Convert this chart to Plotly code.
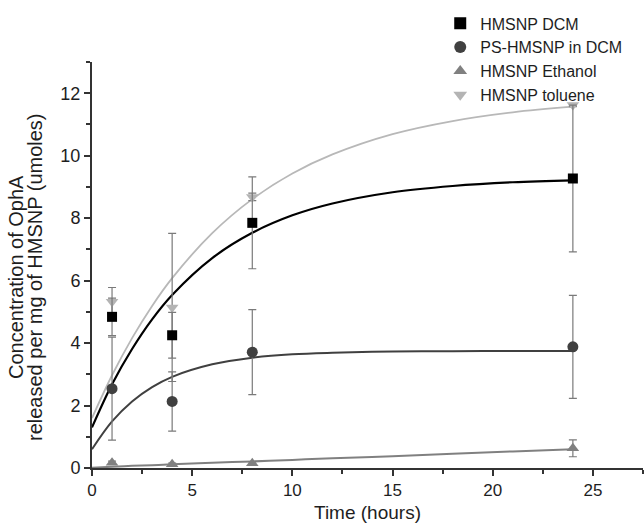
import plotly.graph_objects as go

# Measured points (time in hours)
times = [1, 4, 8, 24]
dcm_vals = [4.84, 4.25, 7.85, 9.27]
dcm_err = [0.60, 0.73, 1.47, 2.35]
ps_vals = [2.54, 2.13, 3.71, 3.88]
ps_err = [1.65, 0.95, 1.36, 1.65]
eth_vals = [0.17, 0.12, 0.15, 0.63]
eth_err = [0.05, 0.04, 0.05, 0.27]
tol_vals = [5.32, 5.14, 8.68, 11.62]
tol_err = [0.46, 2.37, 0.12, 0.05]

# Fitted curves
fit_t = [0, 1, 2, 3, 4, 6, 8, 10, 12, 15, 18, 21, 24]
dcm_fit = [1.30, 2.68, 3.81, 4.76, 5.54, 6.72, 7.53, 8.09, 8.47, 8.83, 9.03, 9.15, 9.21]
ps_fit = [0.60, 1.49, 2.13, 2.59, 2.92, 3.32, 3.53, 3.64, 3.69, 3.73, 3.74, 3.75, 3.75]
eth_fit = [0.01, 0.04, 0.07, 0.09, 0.12, 0.17, 0.21, 0.26, 0.31, 0.38, 0.46, 0.53, 0.60]
tol_fit = [1.60, 2.97, 4.16, 5.19, 6.08, 7.52, 8.61, 9.43, 10.04, 10.69, 11.11, 11.39, 11.57]

names = ["HMSNP DCM", "PS-HMSNP in DCM", "HMSNP Ethanol", "HMSNP toluene"]
x_ticks = [0, 5, 10, 15, 20, 25]
y_ticks = [0, 2, 4, 6, 8, 10, 12]
y_title_lines = ["Concentration of OphA", "released per mg of HMSNP (umoles)"]
x_title = "Time (hours)"

FONT = "Liberation Sans, Arial, sans-serif"
ERRC = "#7a7a7a"
TXT = "#1e1e1e"

fig = go.Figure()

curves = [
    (dcm_fit, "#000000", 2.2),
    (ps_fit, "#404040", 2.0),
    (eth_fit, "#808080", 2.0),
    (tol_fit, "#b8b8b8", 1.8),
]
for ys, col, w in curves:
    fig.add_trace(go.Scatter(x=fit_t, y=ys, mode="lines",
                             line=dict(color=col, width=w, shape="spline", smoothing=1.0),
                             showlegend=False, hoverinfo="skip"))

series = [
    (names[3], tol_vals, tol_err, "triangle-down", "#b4b4b4", 11),
    (names[2], eth_vals, eth_err, "triangle-up", "#808080", 11),
    (names[1], ps_vals, ps_err, "circle", "#404040", 11),
    (names[0], dcm_vals, dcm_err, "square", "#000000", 10),
]
for nm, vals, err, sym, col, sz in series:
    fig.add_trace(go.Scatter(
        x=times, y=vals, mode="markers", name=nm,
        marker=dict(symbol=sym, color=col, size=sz, line=dict(width=0)),
        error_y=dict(type="data", array=err, visible=True, color=ERRC, thickness=1.2, width=4),
    ))

fig.update_layout(
    width=644, height=524,
    margin=dict(l=92, r=1, t=62, b=56),
    paper_bgcolor="white", plot_bgcolor="white",
    font=dict(family=FONT, size=17, color=TXT),
    legend=dict(x=0.632, y=1.137, xanchor="left", yanchor="top", traceorder="reversed",
                bgcolor="rgba(0,0,0,0)", font=dict(size=16, color=TXT),
                itemsizing="constant", tracegroupgap=0),
    showlegend=True,
)
fig.update_xaxes(range=[0, 27.5], tickvals=x_ticks, ticks="outside", ticklen=6, tickwidth=2,
                 tickcolor="#333", showline=True, linecolor="#333", linewidth=2, showgrid=False,
                 zeroline=False, tickfont=dict(size=17),
                 minor=dict(dtick=2.5, ticks="outside", ticklen=4, tickwidth=2, tickcolor="#333", showgrid=False))
fig.update_yaxes(range=[0, 13], tickvals=y_ticks, ticks="outside", ticklen=6, tickwidth=2,
                 tickcolor="#333", showline=True, linecolor="#333", linewidth=2, showgrid=False,
                 zeroline=False, tickfont=dict(size=18),
                 minor=dict(dtick=1, ticks="outside", ticklen=4, tickwidth=2, tickcolor="#333", showgrid=False))

fig.add_annotation(text=x_title, xref="paper", yref="paper", x=0.5, y=(468 - 512) / 406,
                   xanchor="center", yanchor="middle", showarrow=False, font=dict(size=19, color=TXT))
for line, px in zip(y_title_lines, [16, 35]):
    fig.add_annotation(text=line, xref="paper", yref="paper", x=(px - 92) / 551, y=(468 - 277) / 406,
                       xanchor="center", yanchor="middle", textangle=-90, showarrow=False,
                       font=dict(size=20, color=TXT))

fig.write_html("out.html")
